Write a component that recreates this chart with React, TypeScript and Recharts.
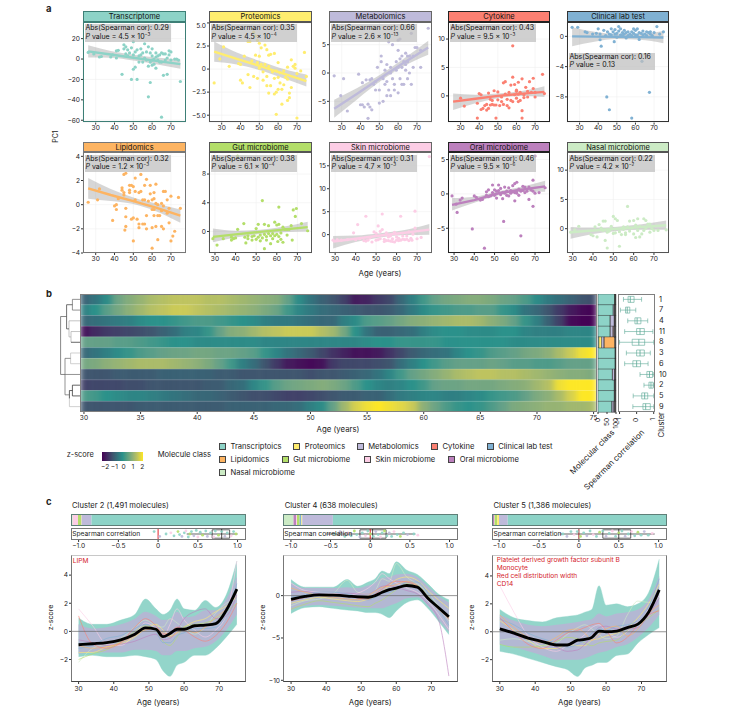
import React from 'react';
import {
  Area,
  Bar,
  BarChart,
  CartesianGrid,
  ComposedChart,
  Line,
  ReferenceArea,
  ReferenceLine,
  Scatter,
  ScatterChart,
  XAxis,
  YAxis,
} from 'recharts';

const FONT = 'Inter, "Liberation Sans", sans-serif';
const INK = '#222';

const TEAL = '#8dd3c7';
const YELLOW = '#ffed6f';
const LAVENDER = '#bebada';
const SALMON = '#fb8072';
const BLUE = '#80b1d3';
const ORANGE = '#fdb462';
const GREEN = '#b3de69';
const PINK = '#fccde5';
const PURPLE = '#bc80bd';
const MINT = '#ccebc5';

// panel a: [age, PC1]
const transcriptomePoints = [[26,6.5],[29,5],[32,2],[33,2.5],[38,2],[39,4],[41,1],[41,8],[42,8.5],[44,-15],[45,14],[45,10],[46,12],[46,5],[47,3],[47,9],[48,6],[49,11],[49,-20],[50,4],[50,17],[50,-10],[51,7],[51,-8],[52,-20],[52,9],[53,3],[53,-3],[54,10],[54,4],[55,6],[55,-3],[56,15],[56,31],[56,1],[57,7],[57,-1],[58,12],[58,-37],[58,-7],[59,6],[59,-23],[59,-3],[60,-1],[60,3],[60,10],[60,-6],[61,0],[61,-5],[62,6],[62,2],[62,-9],[63,-1],[63,3],[64,4],[64,-3],[65,-57],[65,6],[65,-3],[66,5],[66,-16],[67,-1],[67,5],[68,-15],[68,1],[69,4],[69,8],[70,7],[70,-1],[72,0],[73,0],[74,-1],[75,-22]];
const proteomicsPoints = [[26,-1.5],[29,4.6],[29,1.1],[31,2.4],[34,.3],[39,.6],[40,.5],[40,-1.2],[41,-1.5],[42,1.4],[44,-.6],[44,3],[45,-2],[45,3],[46,.9],[47,4],[47,-.8],[48,3.6],[48,1.5],[49,.7],[49,3.1],[49,-1],[50,2.8],[50,.1],[50,1.4],[51,2.3],[51,.5],[52,-.3],[52,-1.2],[53,2.6],[53,.5],[54,2.1],[54,-1.8],[54,-.8],[55,1.5],[55,-2.6],[55,.3],[56,1.6],[56,-1.8],[57,-.3],[58,-1],[58,1.7],[58,-2.7],[59,-.2],[59,-4.9],[59,-2.5],[60,.7],[60,-.9],[60,-2.2],[61,-.4],[61,-1.5],[62,-3.8],[62,-2.2],[63,-.2],[63,-1.7],[64,-.9],[65,-3.4],[65,-1.1],[65,.2],[66,-3.1],[66,-2.6],[67,1],[67,-2],[68,.3],[69,.5],[69,.1],[70,-.5],[70,-5.3],[72,-.2],[74,1.8],[75,-.8]];
const metabolomicsPoints = [[26,-.5],[29.5,-4],[31,-1],[33,-6.7],[39,-.2],[40,-5.6],[41,-5.6],[42,-6],[41,-1.7],[43,-1.2],[44,-8],[44,-5.5],[45,-6],[45,-1.2],[46,-6.5],[46,-1],[47,-2],[48,-3],[48,-1.5],[49,1],[50,-3],[50,-5.3],[51,3],[51,2],[52,-5],[52,-1],[53,.5],[53,-2],[54,-4],[54,-1.5],[54,1.5],[55,-3],[55,5.5],[56,1],[56,0],[56,-4],[57,5],[57,-1],[58,-2],[58,-3],[59,2],[59,.5],[60,5.8],[60,4],[60,1],[60,-3.5],[61,6],[61,2.5],[61,-1],[62,3],[62,-2],[62,1],[63,2],[63,-2],[64,.5],[64,1.5],[64,3.5],[65,3],[65,2],[65,-1],[66,0],[66,3],[67,-2],[67,7],[68,1],[68,3],[69,4.5],[70,4.5],[72,4],[72,1],[76,7.9]];
const cytokinePoints = [[26,12],[30,-.4],[32,-1.8],[39,-3.9],[39,-1.3],[40,.4],[41,.2],[41,-2.4],[42,-2.2],[43,-1.7],[44,-2.5],[44,-1.5],[45,.5],[45,-2.2],[46,-1.6],[46,-.6],[47,-1.5],[47,-.8],[48,-1.6],[48,.9],[49,-3.9],[49,-1.6],[50,.7],[50,-.7],[51,-1.7],[52,-1],[52,-.2],[53,-1.5],[53,2.3],[54,2.5],[54,.3],[55,-1.7],[55,-.6],[56,.6],[56,-2.1],[57,1.9],[57,-.8],[58,8.8],[58,3.3],[58,-1],[59,2],[59,.2],[60,.8],[60,-.4],[60,1],[61,2.4],[61,-1],[61,.3],[62,-.8],[62,.6],[63,-3.9],[63,-2.6],[63,3],[64,.2],[64,-.3],[65,1.5],[66,-.2],[66,.8],[67,2.5],[68,.6],[69,3.1],[69,1.3],[70,.6],[70,-.2],[74,3.8],[75,.4]];
const clinicalPoints = [[26,1.2],[29,1.2],[33,.6],[34,.5],[37,.3],[39,.4],[40,1],[41,.3],[41,-.45],[41.6,-1.3],[43,.8],[44,.1],[44.6,-8],[45,.6],[46,-9.7],[46,.3],[47,1],[47,.2],[48,.6],[48.6,-.7],[49,.3],[49,.9],[50,.4],[50,-.1],[51,.7],[51,1.3],[52,.2],[52,1],[53,.5],[53,.1],[54,.8],[54,.3],[55,.5],[55,-.2],[56,.6],[56,.1],[57,.3],[58,-10.8],[58,.6],[58,.1],[59,1],[59,.4],[60,.2],[60,.8],[61,1],[61,.2],[62,.5],[62,-.4],[63,.4],[63.5,-3.3],[64,.2],[64,.7],[65,.3],[66,.6],[66,.1],[67,.5],[67.5,-7.4],[68,.3],[68,.6],[69,.1],[70,.5],[71.5,1.3],[73,.3],[75,.6]];
const lipidomicsPoints = [[26,.2],[31,.4],[32,1.3],[39,-1.3],[40,-.1],[41,-.4],[41,0],[42,.5],[44,1.4],[44,1.2],[45,1],[45,.8],[45,2.5],[45.5,-2.1],[46,2.6],[46,-1.8],[46,-1],[46,-.3],[48,1.6],[48,1.2],[48,1],[49,-1.2],[49,1.6],[50,-1.1],[50,1.5],[50,-3],[51,1.1],[51,.4],[51,2.2],[52,-1.2],[53,-1.6],[53,-1.9],[53,1],[54,2.5],[54,1.1],[55,.4],[55,-1.6],[56,-1.6],[56,.4],[56,1.6],[57,2.1],[57,-2],[57,-.9],[58,.3],[59,1.6],[59,.9],[60,-.4],[60,-1.9],[60,-3.6],[60,.4],[61,1],[61,.5],[61,-.9],[61,-.4],[62,-1.8],[62,1.7],[62,.1],[63,-2.9],[63,-.9],[63,0],[64,-.9],[65,-1.8],[65,-.5],[65,.1],[66,-2],[66,1.1],[66,-.1],[67,1.1],[68,-.7],[68,.4],[69,-1.5],[69,-.3],[70,-3],[70,.7],[71,-2.6],[72,-2.2],[74,.6],[75,-.3]];
const gutPoints = [[29,-1],[31,-1.9],[34,-1],[38,-.8],[38,-1.2],[39,-1],[40,-.9],[41,10.5],[41,.3],[44,1.1],[44.5,-.8],[45,-1.6],[46,-.6],[46,-1],[48,-.7],[48,-1.2],[49,-.6],[50,-1.1],[50,.4],[51,1],[51,-.8],[52,-1.3],[52,-.5],[53,4.3],[53,-.9],[54,-2.4],[54,1],[54,-.4],[55,-1.2],[55,-.7],[56,.8],[56,-.3],[57,-1.7],[57,-.6],[58,-1],[58,-.3],[59,1.3],[59,-.6],[60,-.4],[60,.9],[60.5,-1.4],[61,3.4],[61,1],[61,-.7],[62,-.2],[62,-1.1],[63,.6],[63,-1.5],[64,.3],[65,.3],[65,-.5],[66,.3],[67,.8],[67.5,-1.2],[68,3],[69,2.1],[69.5,3.2],[72,1.1],[75,.1]];
const skinPoints = [[29,-1.2],[31,-1.1],[33,-1.2],[36,-1.1],[39,.4],[40,-1.1],[41,2.2],[42,-.9],[44,-1.3],[45,4],[45,-1.4],[46,-1.2],[47,-.7],[48,-1.6],[49,.6],[50,-1.2],[50,.3],[51,1.9],[51,-1.1],[52,.7],[52,-.9],[53,4.5],[53,1.1],[54,-1],[54,-1.5],[55,.4],[55,-1.3],[56,-.5],[56,-1.3],[57,-1.4],[57,-.3],[58,-.9],[58,-1.5],[59,.5],[59,-1.6],[60,-1.2],[60,-.5],[61,-.8],[61,-1.3],[62,4],[62,-1.2],[63,-1],[63,-.3],[64,-1.1],[65,-1],[65,-.3],[66,.6],[66,-1.3],[67,-.8],[67.5,-1.2],[68,.1],[69,1.4],[69,5.1],[70,-.9],[72,-.6],[76,17]];
const oralPoints = [[29,-.3],[31,-1.5],[31.5,-2.7],[33,-.9],[34,-.6],[39,-5.1],[40,-.3],[41,-.5],[43,-.9],[44,-.8],[45,-7.9],[46,.3],[46,-.2],[47,.6],[47,-.4],[48,-.3],[49,.2],[49,1.3],[50,-.2],[50,.6],[51,.4],[51,-.6],[52,1.3],[52,.5],[53,-.1],[53,.8],[54,.2],[54,-.7],[54.5,-4],[55,1],[55,.1],[56,.4],[56,-.2],[57,.9],[57,-.3],[58,.5],[58,.1],[59,1.2],[59,.3],[60,-1],[60,1.5],[60,.2],[61,1.7],[61,.5],[61,.1],[62,.7],[62,-.2],[63,-6.1],[63,.4],[64,1.1],[64,.5],[65,.2],[65,1],[66,.4],[67,-.8],[67,1],[68,.6],[69,.4],[69,-1.8],[69,2],[70,5.5],[70,.1],[72,.2],[75,.9]];
const nasalPoints = [[29,-.6],[31,-.2],[33,.4],[39,-1],[40,-1.2],[41,.3],[42,-1.4],[43,.7],[44,.1],[45,1.3],[45,-.3],[46,-2],[46,1.3],[47,-3.3],[47,-.6],[48,-.4],[49,.4],[50,2.1],[50,-.8],[51,1.7],[51,-.7],[52,1.4],[53,-.5],[53,-3],[54,-1],[55,-.1],[55,.3],[56,-.7],[56,-1],[57,3.8],[57,.3],[58,1.3],[58,-.4],[59,.1],[60,1.4],[60,-.9],[61,.6],[61,-1.5],[62,1.7],[62,-.3],[63,-1.4],[63,.4],[64,-.9],[65,1.7],[65,-.3],[66,1.4],[66,.1],[67,.8],[68,.8],[68,-.6],[69,0],[70,-.3],[72,-.3],[76,-.2]];

// panel a fits: [age, fit, low, high]
const transcriptomeFit = [[26,7.5,1.5,13.5],[38,4.5,1.2,7.8],[50,1.3,-1.5,4.1],[62,-1.8,-5,1.4],[75,-5,-9.5,-.5]];
const proteomicsFit = [[26,1.9,.8,3],[38,1.1,.5,1.8],[50,.35,-.1,.9],[62,-.45,-.95,.05],[75,-1.3,-1.9,-.6]];
const metabolomicsFit = [[26,-6.3,-7.9,-4.7],[38,-3.7,-4.7,-2.7],[50,-1,-1.6,-.4],[62,1.6,1,2.3],[76,4.5,3.2,5.7]];
const cytokineFit = [[26,-1,-2.5,.4],[38,-.5,-1.3,.2],[50,0,-.4,.4],[62,.35,0,.8],[75,.7,-.2,1.7]];
const clinicalFit = [[26,0,-1.3,1.2],[38,-.03,-.7,.6],[50,-.05,-.35,.3],[62,-.1,-.45,.3],[75,-.15,-.9,.7]];
const lipidomicsFit = [[26,1.35,.5,2.2],[38,.8,.3,1.3],[50,.3,.05,.6],[62,-.25,-.55,.1],[75,-.9,-1.5,-.4]];
const gutFit = [[29,-.75,-1.5,.4],[40,-.4,-.85,.1],[52,-.05,-.35,.25],[63,.25,-.1,.65],[75,.6,0,1.35]];
const skinFit = [[29,-1.5,-3,-.3],[40,-.9,-1.6,-.2],[52,-.2,-.6,.3],[64,.4,-.1,1],[76,1.1,0,2.3]];
const oralFit = [[29,-1.6,-2.4,-.6],[40,-.9,-1.3,-.4],[52,.1,-.2,.4],[63,.6,.3,1],[75,1.1,.3,1.9]];
const nasalFit = [[29,-.6,-1.7,.3],[40,-.3,-.9,.2],[52,0,-.4,.35],[64,.3,-.2,.75],[76,.6,-.2,1.4]];

const a1Panels = [
  { title: 'Transcriptome', color: TEAL, edge: '#3d7f76', points: transcriptomePoints, fit: transcriptomeFit, xDomain: [23.25, 78], yDomain: [-62.3, 36.3], yTicks: [-60, -40, -20, 0, 20], cor: '0.29', p: '4.5', exp: '−3', left: 83, width: 103 },
  { title: 'Proteomics', color: YELLOW, edge: '#555', points: proteomicsPoints, fit: proteomicsFit, xDomain: [23.25, 78], yDomain: [-5.8, 5.1], yTicks: [-5, -2.5, 0, 2.5, 5], yFixed: true, cor: '0.35', p: '4.5', exp: '−4', left: 209, width: 103 },
  { title: 'Metabolomics', color: LAVENDER, edge: '#666', points: metabolomicsPoints, fit: metabolomicsFit, xDomain: [23.25, 78], yDomain: [-8.75, 9], yTicks: [-5, 0, 5], cor: '0.66', p: '2.6', exp: '−13', left: 329, width: 103 },
  { title: 'Cytokine', color: SALMON, edge: '#222', points: cytokinePoints, fit: cytokineFit, xDomain: [23.25, 78], yDomain: [-4.7, 13], yTicks: [0, 5, 10], cor: '0.43', p: '9.5', exp: '−3', left: 448, width: 102 },
  { title: 'Clinical lab test', color: BLUE, edge: '#333', points: clinicalPoints, fit: clinicalFit, xDomain: [23.25, 78], yDomain: [-11.4, 1.9], yTicks: [-8, -4, 0], cor: '0.16', pText: '0.13', boxTop: 52.7, left: 567, width: 102 },
];
const a2Panels = [
  { title: 'Lipidomics', color: ORANGE, edge: '#777', points: lipidomicsPoints, fit: lipidomicsFit, xDomain: [23.25, 78], yDomain: [-4, 4.36], yTicks: [-4, -2, 0, 2, 4], cor: '0.32', p: '1.2', exp: '−3', left: 83, width: 103 },
  { title: 'Gut microbiome', color: GREEN, edge: '#555', points: gutPoints, fit: gutFit, xDomain: [27.1, 77.1], yDomain: [-3, 11.07], yTicks: [0, 4, 8], cor: '0.38', p: '6.1', exp: '−4', left: 209, width: 103 },
  { title: 'Skin microbiome', color: PINK, edge: '#666', points: skinPoints, fit: skinFit, xDomain: [27, 77.3], yDomain: [-4, 18], yTicks: [0, 5, 10, 15], cor: '0.31', p: '4.7', exp: '−3', left: 329, width: 103 },
  { title: 'Oral microbiome', color: PURPLE, edge: '#222', points: oralPoints, fit: oralFit, xDomain: [27, 77.4], yDomain: [-8.6, 6.1], yTicks: [-5, 0, 5], cor: '0.46', p: '9.5', exp: '−6', left: 448, width: 102 },
  { title: 'Nasal microbiome', color: MINT, edge: '#555', points: nasalPoints, fit: nasalFit, xDomain: [27.2, 77.4], yDomain: [-4.15, 13.1], yTicks: [0, 5, 10], cor: '0.22', p: '4.2', exp: '−2', left: 567, width: 102 },
];

// panel b
const heatClusters = ['1', '7', '4', '11', '8', '3', '6', '10', '2', '5', '9'];
const heatAges = [30,31,32,33,34,35,36,37,38,39,40,41,42,43,44,45,46,47,48,49,50,51,52,53,54,55,56,57,58,59,60,61,62,63,64,65,66,67,68,69,70,71,72,73,74,75];
const heatRows = [
  [-.8,-.5,-.1,.6,.9,1.1,1.3,1.4,1.5,1.5,
   1.5,1.4,1.4,1.3,1.2,1.1,1,.9,.5,-.1,
   -.5,-.8,-1,-1.3,-1.8,-1.7,-1.4,-1.2,-.7,-.3,
   .2,.5,.7,.8,.9,.9,.8,.6,.5,.3,
   -.1,-.4,-.6,-.8,-1,-1.1],
  [-.3,0,.4,.7,1,1.2,1.4,1.5,1.6,1.6,
   1.5,1.4,1.3,1.2,1.1,1,.8,.6,.2,-.2,
   -.4,-.6,-.7,-.8,-.9,-1,-1,-.9,-.7,-.4,
   -.1,.1,.2,.3,.3,.4,.4,.1,-.1,-.5,
   -.7,-1,-1.4,-1.8,-2,-2.1],
  [-.7,-.6,-.5,-.4,-.3,-.1,0,0,.1,.2,
   .3,.3,.2,.1,0,-.1,-.3,-.4,-.4,-.5,
   -.6,-.7,-.7,-.3,-.1,.3,.4,.5,.7,.9,
   1,1.1,1.2,1.3,1.3,1.2,1,.8,.5,.1,
   -.3,-.8,-1.3,-2,-2.2,-2.2],
  [-1.9,-1.6,-1.4,-1.3,-1.2,-1.1,-1,-.8,-.6,-.3,
   -.2,.1,.5,.9,1,1.2,1.4,1.5,1.6,1.6,
   1.6,1.4,1.2,.7,0,-.5,-.8,-.8,-.7,-.6,
   -.3,-.1,0,0,-.1,-.1,-.1,0,0,-.2,
   -.3,-.3,-.3,-.2,-.2,-.2],
  [.5,.5,.5,.4,.4,.3,.2,.1,0,0,
   -.1,-.1,-.1,-.1,-.1,-.1,-.2,-.2,-.2,-.2,
   -.2,-.2,-.2,-.2,-.2,-.1,0,0,.1,.1,
   .1,.1,0,0,0,0,0,0,-.1,-.1,
   -.1,-.1,-.1,-.1,-.1,-.1],
  [-.7,-.5,-.3,-.1,.1,.3,.4,.5,.6,.6,
   .7,.7,.6,.6,.5,.4,.1,-.2,-.5,-.7,
   -.9,-1.2,-1.5,-1.7,-1.9,-1.9,-1.8,-1.5,-1.2,-.9,
   -.7,-.6,-.5,-.2,0,.1,.3,.4,.5,.7,
   .8,1,1.3,1.6,1.9,2],
  [.7,.8,1,1.1,1.2,1.3,1.3,1.3,1.2,1.1,
   1,.8,.5,.2,-.3,-.6,-1,-1.4,-1.8,-1.9,
   -2,-1.9,-1.4,-1.2,-1.2,-1.2,-1.1,-1,-.6,-.3,
   0,.2,.4,.5,.5,.5,.6,.5,.4,.4,
   .3,.3,.4,.5,.5,.5],
  [-1,-1,-1,-.9,-.9,-.9,-.9,-.8,-.8,-.8,
   -.8,-.8,-.9,-.9,-1,-1,-1,-1,-1,-1,
   -1.1,-1,-1,-.9,-.8,-.7,-.5,-.2,.2,.5,
   .7,.9,1.1,1.3,1.4,1.5,1.5,1.4,1.4,1.3,
   1.2,1.1,1,.9,.9,.8],
  [-1.3,-1.2,-1.2,-1.2,-1.1,-1.1,-1,-1,-1,-1,
   -1,-.9,-.9,-.7,-.6,-.2,.1,.4,.6,.7,
   .8,.9,.8,.6,.3,0,-.2,-.3,-.2,0,
   .2,.5,.6,.6,.7,.7,.7,.8,.9,1,
   1.2,1.4,1.9,2.1,2.1,2.1],
  [.3,.2,0,-.1,-.2,-.2,-.3,-.4,-.5,-.6,
   -.7,-.7,-.8,-.9,-1,-1.1,-1.1,-1.2,-1.3,-1.3,
   -1.2,-1.1,-1,-.9,-.9,-.8,-.8,-.6,-.4,-.3,
   -.2,-.2,-.3,-.3,-.2,-.1,.1,.2,.3,.5,
   .8,1,1.3,1.7,2,2.1],
  [-1,-1,-1,-1,-1,-.9,-.9,-.9,-.9,-.9,
   -.9,-.9,-.9,-.8,-.8,-.8,-.8,-.7,-.7,-.6,
   -.3,-.1,.5,1.2,1.7,1.9,2,1.9,1.8,1.6,
   1,.6,.3,.1,0,.1,.3,.5,.8,.9,
   1,1.1,1.1,1.2,1.2,1.3],
];
const heatStops = [[-2.1, [68, 1, 84]], [-1.5, [65, 50, 100]], [-1, [62, 85, 110]], [-.5, [50, 115, 125]], [0, [42, 145, 138]], [.5, [100, 160, 135]], [1, [140, 175, 120]], [1.5, [190, 195, 95]], [1.8, [225, 215, 70]], [2, [253, 231, 37]]];

const classTranscriptomics = [94, 85, 68, 68, 5, 96, 96, 80, 91, 91, 78];
const classProteomics = [.5, .5, .5, .5, 15, .5, .5, .5, .5, .5, .5];
const classMetabolomics = [1, 6, 22, 14, 14, .5, .5, 12, 2, 2, 10];
const classSkin = [.5, 1, 2, 6, 1, 0, 0, 1, 1, 1, 2];
const classLipidomics = [0, 0, .5, .5, 58, 0, 0, 0, 0, 0, 0];
const classOther = [4, 7.5, 7, 11, 7, 3, 3, 6.5, 5.5, 5.5, 9.5];

// min, q1, median, q3, max of the Spearman correlation per cluster
const boxMin = [-.77, -.95, -.52, -.7, -1, -.6, -.7, .2, .43, -.2, -.22];
const boxQ1 = [-.5, -.65, -.1, 0, -.26, 0, -.22, .6, .72, .3, .37];
const boxMedian = [-.37, -.55, .03, .2, .13, .2, 0, .75, .84, .47, .53];
const boxQ3 = [-.15, -.4, .25, .45, .47, .45, .23, .93, .97, .65, .8];
const boxMax = [.29, -.05, .65, .95, 1, .8, .67, 1, 1, 1, 1];

// dendrogram links: [height, row] polylines from leaf side to merge and back
const dendroLinks = [
  { color: '#666', path: [[0,0],[.38,0],[.38,1],[0,1]] },
  { color: '#aaa', path: [[0,3],[.45,3],[.45,4]] },
  { color: '#222', path: [[.45,4],[0,4]] },
  { color: '#aaa', path: [[0,2],[.55,2],[.55,3.5],[.45,3.5]] },
  { color: '#333', path: [[.38,.5],[.67,.5],[.67,2.75],[.55,2.75]] },
  { color: '#bbb', path: [[0,5],[.47,5],[.47,6],[0,6]] },
  { color: '#222', path: [[0,8],[.38,8],[.38,9],[0,9]] },
  { color: '#222', path: [[.38,8.5],[.53,8.5],[.53,9.25]] },
  { color: '#bbb', path: [[.53,9.25],[.53,10],[0,10]] },
  { color: '#666', path: [[0,7],[.75,7],[.75,8.9],[.53,8.9]] },
  { color: '#666', path: [[.47,5.5],[.75,5.5],[.75,7]] },
  { color: '#555', path: [[.67,1.6],[.97,1.6],[.97,7],[.75,7]] },
];

const legendItems = [
  { name: 'Transcriptoics', color: TEAL, x: 219, row: 0 },
  { name: 'Proteomics', color: YELLOW, x: 293.3, row: 0 },
  { name: 'Metabolomics', color: LAVENDER, x: 356.7, row: 0 },
  { name: 'Cytokine', color: SALMON, x: 431, row: 0 },
  { name: 'Clinical lab test', color: BLUE, x: 486.7, row: 0 },
  { name: 'Lipidomics', color: ORANGE, x: 219, row: 1 },
  { name: 'Gut microbiome', color: GREEN, x: 281.7, row: 1 },
  { name: 'Skin microbiome', color: PINK, x: 364, row: 1 },
  { name: 'Oral microbiome', color: PURPLE, x: 448.3, row: 1 },
  { name: 'Nasal microbiome', color: MINT, x: 219, row: 2 },
];

// panel c
const trajAges = [30, 34, 38, 42, 46, 49, 52, 54, 56, 58, 60, 63, 66, 69, 72, 75];
const traceColors = [MINT, PINK, YELLOW, GREEN, PURPLE, BLUE, ORANGE, SALMON];
const classOrder = [MINT, PURPLE, PINK, GREEN, BLUE, YELLOW, LAVENDER, TEAL];

const c2Mean = [-.95, -.88, -.8, -.6, -.2, .25, .15, -.38, -.15, .15, .15, .4, .45, .55, 1.5, 3];
const c2OuterHigh = [.95, .5, .5, .8, 1.2, 2.3, 1.6, 1.2, 1.5, 2.3, 1.6, 1.5, 2.2, 1.7, 2.6, 5];
const c2OuterLow = [-1.8, -1.7, -1.8, -1.8, -1.7, -1.8, -2, -2.8, -3.2, -2.4, -2.2, -1.7, -1.7, -1.2, -.4, .5];
const c2InnerHigh = [.5, .2, .3, .5, .9, 1.4, 1.1, .8, .9, 1.4, 1, 1.1, 1.5, 1.5, 2.3, 3.9];
const c2InnerLow = [-1.6, -1.5, -1.5, -1.5, -1.3, -1.3, -1.4, -1.7, -1.7, -1.4, -1.4, -1.2, -1.1, -.7, .1, 1.2];
const c2Traces = [
  [-2.2, -1.2, -.9, -.5, .3, .8, .4, .3, .9, .6, .2, -.2, .3, 1.3, 2, 2.3],
  [1.6, .4, -.9, -1, -.2, .6, .2, -.4, .5, 1.6, .8, .1, -.4, .1, 1.2, 5],
  [-1.5, -1.5, -1.1, -.9, -.4, .2, .5, .1, -.3, -.1, .3, .7, .9, 1.4, 1.8, 2.5],
  [-2, -1.6, -1.3, -.7, 0, .4, .1, -.7, -1, -.4, .3, .5, .6, .9, 1.4, 2],
  [-.6, -.8, -1, -.9, -.7, -.4, -.2, -.6, -.5, .1, .9, 1.4, 1.6, .9, 1.1, 2.6],
  [-1.2, -1, -.5, -.3, .2, .5, 0, -.8, -.8, -.3, -.1, .2, .2, .3, 1.2, 3.4],
  [-1, -1.2, -1.1, -.8, -.3, .1, .2, -.1, -.4, -.1, .2, -.1, .3, 1, 1.6, 2.8],
  [1.1, -.9, -1.2, -.8, .3, .9, .4, -.2, -.1, .3, .1, -.4, -.7, -.3, .6, 2],
];
const c2Classes = [1, 0, 3, 1.7, 0, .3, 5.7, 88.3];
const c2Box = [.36, .68, .8, .9, 1];
const c2Spearman = [[-.05,.7],[.02,.3],[.1,.5],[.16,.6],[.2,.35],[.25,.7],[.27,.45],[.3,.3],[.33,.6],[.35,.75],[.38,.25],[.4,.5],[.42,.7],[.45,.35],[.48,.8],[.5,.25],[.53,.65],[.56,.4],[.6,.75],[.62,.3],[.66,.6],[.7,.25],[.72,.75],[.76,.4],[.8,.7],[.84,.3],[.87,.6],[.92,.35],[.95,.7],[.98,.5]];

const c4Mean = [-.45, -.1, .1, .05, -.05, -.15, -.2, 0, .4, .7, .9, 1.2, 1, -.3, -1.4, -2.5];
const c4OuterHigh = [1.9, 1, 1, 1, 1.9, 1.1, 1.6, 2, 2.9, 2.6, 4, 3, 2.5, 1.4, .2, -.5];
const c4OuterLow = [-2.1, -1.4, -1.3, -1.5, -1.7, -1.8, -2, -2, -2.2, -2.6, -1.8, -.8, -.5, -1.5, -3, -4.6];
const c4InnerHigh = [1.5, .9, .9, .9, 1, .9, 1.2, 1.5, 2.1, 2.2, 2.5, 2.6, 2.2, 1.1, 0, -.8];
const c4InnerLow = [-1.7, -1.2, -1.1, -1.2, -1.3, -1.4, -1.5, -1.5, -1.5, -1.2, -.9, -.3, -.2, -1.2, -2.8, -4.3];
const c4Traces = [
  [-1.2, -.6, -.4, .2, 1.8, .4, .2, .6, 2, 1.7, 3.8, 2.2, 1.4, .3, -1.2, -3],
  [1.5, .6, .4, .3, 0, .3, .9, 1.6, 2.6, 2, 1.5, .9, .4, -.6, -2.2, -4],
  [-.9, -.5, -.2, -.4, -.6, -.7, -.4, -.1, .5, 1.2, 1.9, 2.2, 1.8, .6, -.5, -1.5],
  [-1.6, -1, -.6, -.8, -1, -1.2, -1.3, -.9, -.5, .1, .7, 1.4, 1.2, 0, -1.4, -2.6],
  [.4, .5, .2, .1, .3, .2, .2, .6, 1.1, 1.2, 1, .6, .2, -1, -2.8, -9.5],
  [-.2, .1, .4, .4, .2, -.1, -.5, -.2, .3, .4, .8, 1.6, 1.6, .3, -1.6, -3.5],
  [.9, .4, 0, -.2, -.4, -.5, 0, .5, 1, 1.1, 1.3, 1.7, 1.2, -.2, -1.6, -2.6],
  [-.6, -.2, .1, .1, 0, -.3, -.4, .2, .8, 1.4, 1.7, 1.6, 1.1, -.2, -1.4, -2.8],
];
const c4Classes = [6, 1.5, .5, 1.5, 1, .5, 17.5, 71.5];
const c4Box = [-.55, -.13, .03, .2, .57];
const c4Spearman = [[-.45,.5],[-.38,.7],[-.32,.3],[-.28,.6],[-.24,.35],[-.2,.75],[-.17,.45],[-.13,.25],[-.1,.6],[-.06,.35],[-.03,.75],[0,.5],[.04,.3],[.07,.7],[.1,.45],[.13,.25],[.15,.6],[.18,.75],[.21,.35],[.24,.6],[.27,.3],[.3,.7],[.34,.45],[.38,.3],[.42,.6],[.47,.45],[.55,.5],[.6,.4]];

const c5Mean = [.2, -.1, -.45, -.7, -.95, -.95, -.6, -.55, -.4, .05, 0, .05, .3, .55, 1.4, 3];
const c5OuterHigh = [1.6, 1, .8, .7, 1, 1.1, 1.2, 1.4, 1.6, 3.3, 1.9, 2, 1.8, 2, 2.8, 5.2];
const c5OuterLow = [-1.4, -1.6, -1.9, -2.2, -2.5, -2.7, -3.2, -2.6, -2.4, -2.2, -2.2, -1.7, -1.6, -.8, -.2, .3];
const c5InnerHigh = [1.2, .8, .5, .4, .5, .6, .7, .8, .9, 1.3, 1.1, 1.3, 1.4, 1.6, 2.3, 4];
const c5InnerLow = [-.9, -1.1, -1.4, -1.7, -2, -2, -2, -1.9, -1.7, -1.5, -1.4, -1.1, -.9, -.4, .3, 1.2];
const c5Traces = [
  [-.6, -.5, -.7, -1, -.8, -.2, .3, .5, .2, -.2, -.5, -.3, 1.2, 2.2, 2.1, 2.4],
  [3.3, 1.4, -.3, -1.1, -1.4, -1, -.6, -.2, .3, .5, .1, -.4, 0, .8, 1.6, 2.6],
  [.8, .1, -.6, -1.2, -1.2, -.9, -1, -1, -.6, -.5, -.3, -.1, .3, 1, 2, 3.4],
  [-.9, -1.1, -1.1, -1, -.7, -.4, -.5, -.8, -1, -.8, -.7, -.6, .1, .5, 1, 1.6],
  [.3, -.2, -.5, -.6, -1.1, -1.4, -1.3, -.9, -.3, .3, .4, .2, .2, .3, 1.2, 2.4],
  [.9, .5, -.1, -.5, -.8, -1.1, -.9, -.6, -.1, .2, .1, .4, .5, .8, 1.8, 3.8],
  [1.2, .3, -.4, -.8, -.4, .1, .2, -.1, -.6, -.2, .2, .4, -.3, .2, 1.3, 1.9],
  [1, 0, -.9, -1.2, -.6, -.1, .1, .3, .5, .6, .1, -.8, -.4, .5, 1.2, 1.5],
];
const c5Classes = [.3, 1, .2, 1.5, 0, 1, 5, 91];
const c5Box = [-.24, .3, .5, .65, .95];
const c5Spearman = [[-.2,.5],[-.15,.3],[-.1,.7],[-.06,.45],[-.02,.7],[.02,.3],[.06,.6],[.1,.35],[.14,.75],[.18,.45],[.22,.3],[.26,.65],[.3,.75],[.34,.3],[.38,.55],[.42,.75],[.46,.3],[.5,.6],[.54,.75],[.58,.3],[.62,.5],[.66,.7],[.7,.35],[.74,.65],[.78,.4],[.82,.7],[.87,.4],[.92,.55]];

const strip1Ticks = [-1, -.5, 0, .5, 1];
const ageTicks = [30, 40, 50, 60, 70];

const cPanels = [
  { title: 'Cluster 2 (1,491 molecules)', titleX: 72, left: 70.7, width: 175, xDomain: [27.84, 77.6], yDomain: [-3.6, 5.43], yTicks: [-2, 0, 2, 4], stripDomain: [-1.096, 1.106], mean: c2Mean, outerHigh: c2OuterHigh, outerLow: c2OuterLow, innerHigh: c2InnerHigh, innerLow: c2InnerLow, traces: c2Traces, classes: c2Classes, box: c2Box, spearman: c2Spearman, zeroColor: '#e0242a', notes: ['LIPM'], notesX: 72.7, notesY: 558 },
  { title: 'Cluster 4 (638 molecules)', titleX: 284.7, left: 282.7, width: 175, xDomain: [27.7, 77.6], yDomain: [-10.2, 4.8], yTicks: [-10, -5, 0], stripDomain: [-1.1, 1.107], mean: c4Mean, outerHigh: c4OuterHigh, outerLow: c4OuterLow, innerHigh: c4InnerHigh, innerLow: c4InnerLow, traces: c4Traces, classes: c4Classes, box: c4Box, spearman: c4Spearman, zeroColor: '#e0242a', notes: [], notesX: 0, notesY: 0 },
  { title: 'Cluster 5 (1,386 molecules)', titleX: 493.5, left: 492, width: 175, xDomain: [27.8, 77.2], yDomain: [-3.6, 5.5], yTicks: [-2, 0, 2, 4], stripDomain: [-1.09, 1.105], mean: c5Mean, outerHigh: c5OuterHigh, outerLow: c5OuterLow, innerHigh: c5InnerHigh, innerLow: c5InnerLow, traces: c5Traces, classes: c5Classes, box: c5Box, spearman: c5Spearman, zeroColor: '#a02a2a', notes: ['Platelet derived growth factor subunit B', 'Monocyte', 'Red cell distribution width', 'CD14'], notesX: 496.7, notesY: 557 },
];

const minus = (v: number | string) => String(v).replace('-', '−');

const heatColor = (z: number) => {
  for (let i = 1; i < heatStops.length; i++) {
    const [z1, c1] = heatStops[i - 1] as [number, number[]];
    const [z2, c2] = heatStops[i] as [number, number[]];
    if (z <= z2) {
      const t = Math.max(0, (z - z1) / (z2 - z1));
      return `rgb(${c1.map((c, k) => Math.round(c + (c2[k] - c) * t)).join(',')})`;
    }
  }
  return 'rgb(253,231,37)';
};

const tickStyle = { fontSize: 6.6, fill: INK };

const Txt = ({ x, y, size = 7, color = INK, bold, children, style }: any) => (
  <div style={{ position: 'absolute', left: x, top: y, fontSize: size, lineHeight: 1, color, fontWeight: bold ? 700 : 400, whiteSpace: 'nowrap', ...style }}>
    {children}
  </div>
);

function ScatterPanel({ panel, top, height }: any) {
  const axisW = 24;
  const axisH = 13;
  const points = panel.points.map(([age, pc1]: number[]) => ({ age, pc1 }));
  const fitRows = panel.fit.map(([age, fit, low, high]: number[]) => ({ age, fit, band: [low, high] }));
  const boxTop = panel.boxTop ?? top + 2.4;

  return (
    <>
      <div style={{ position: 'absolute', left: panel.left, top: top - 10.5, width: panel.width, height: 10.5, boxSizing: 'border-box', background: panel.color, border: `1px solid ${panel.edge}`, fontSize: 7.5, lineHeight: '9px', textAlign: 'center', color: '#111' }}>
        {panel.title}
      </div>
      <div style={{ position: 'absolute', left: panel.left - axisW, top }}>
        <ComposedChart width={panel.width + axisW} height={height + axisH} data={fitRows} margin={{ top: 0, right: 0, bottom: 0, left: 0 }}>
          <CartesianGrid stroke="#f0f0f0" strokeWidth={0.6} />
          <XAxis dataKey="age" type="number" domain={panel.xDomain} ticks={[30, 40, 50, 60, 70]} allowDataOverflow height={axisH} tick={tickStyle} tickSize={2} tickMargin={1} axisLine={false} stroke="#333" />
          <YAxis dataKey="pc1" type="number" domain={panel.yDomain} ticks={panel.yTicks} allowDataOverflow width={axisW} tick={tickStyle} tickSize={2} tickMargin={1} axisLine={false} stroke="#333"
            tickFormatter={(v: number) => (panel.yFixed && v !== 0 ? minus(v.toFixed(1)) : minus(v))} />
          <Scatter data={points} isAnimationActive={false} shape={(p: any) => <circle cx={p.cx} cy={p.cy} r={1.6} fill={panel.color} />} />
          <Area dataKey="band" type="monotone" stroke="none" fill="#8c8c8c" fillOpacity={0.36} isAnimationActive={false} dot={false} activeDot={false} />
          <Line dataKey="fit" type="linear" stroke={panel.color} strokeWidth={2.4} dot={false} activeDot={false} isAnimationActive={false} />
        </ComposedChart>
      </div>
      <div style={{ position: 'absolute', left: panel.left, top, width: panel.width, height, boxSizing: 'border-box', border: `1px solid ${panel.edge}`, pointerEvents: 'none' }} />
      <div style={{ position: 'absolute', left: panel.left + 2, top: boxTop, width: 85, height: 17.8, background: 'rgba(190,190,190,0.72)', fontSize: 7, lineHeight: '8.6px', color: '#111', paddingLeft: 0.5, whiteSpace: 'nowrap' }}>
        <div>Abs(Spearman cor): {panel.cor}</div>
        {panel.pText ? (
          <div><i>P</i> value = {panel.pText}</div>
        ) : (
          <div><i>P</i> value = {panel.p} × 10<sup style={{ fontSize: 4.6, lineHeight: 0 }}>{panel.exp}</sup></div>
        )}
      </div>
    </>
  );
}

const rotatedTick = (p: any) => (
  <text x={p.x} y={p.y} dy={2} transform={`rotate(-90 ${p.x} ${p.y + 2})`} textAnchor="end" dominantBaseline="middle" fontSize={6.4} fill={INK}>
    {minus(p.payload.value)}
  </text>
);

function Heatmap() {
  const w = 517;
  const h = 118;
  const pad = 14;
  const cellW = 11.32;
  const cellH = h / heatRows.length;
  const cells = heatRows.flatMap((row, r) => row.map((z, i) => ({ age: heatAges[i], row: r, z })));
  const ticks = [30, 35, 40, 45, 50, 55, 60, 65, 70, 75];
  return (
    <>
      <svg width={0} height={0} style={{ position: 'absolute' }}>
        <filter id="heatSmooth" x="-5%" y="0" width="110%" height="100%" colorInterpolationFilters="sRGB">
          <feGaussianBlur stdDeviation="3.2 0" />
        </filter>
      </svg>
      <div style={{ position: 'absolute', left: 80, top: 294, width: w, height: h, overflow: 'hidden' }}>
        <div style={{ position: 'absolute', left: -pad, top: 0, filter: 'url(#heatSmooth)' }}>
          <ScatterChart width={w + 2 * pad} height={h} margin={{ top: 0, right: pad, bottom: 0, left: pad }}>
            <XAxis dataKey="age" type="number" domain={[29.65, 75.3]} hide allowDataOverflow />
            <YAxis dataKey="row" type="number" domain={[-0.5, 10.5]} reversed hide allowDataOverflow />
            <Scatter data={cells} isAnimationActive={false} shape={(p: any) => {
              const x0 = p.cx - cellW / 2 - (p.payload.age === 30 ? 12 : 0);
              const x1 = p.cx + cellW / 2 + (p.payload.age === 75 ? 12 : 0);
              const c = heatColor(p.payload.z);
              return <rect x={x0} y={p.cy - cellH / 2} width={x1 - x0} height={cellH} fill={c} stroke={c} strokeWidth={0.3} />;
            }} />
          </ScatterChart>
        </div>
      </div>
      <div style={{ position: 'absolute', left: 80, top: 294 }}>
        <ScatterChart width={w} height={h + 14} margin={{ top: 0, right: 0, bottom: 0, left: 0 }}>
          <XAxis dataKey="age" type="number" domain={[29.65, 75.3]} ticks={ticks} interval={0} height={14} tick={tickStyle} tickSize={2} tickMargin={1} axisLine={false} stroke="#333" allowDataOverflow />
          <YAxis dataKey="row" type="number" domain={[-0.5, 10.5]} reversed hide allowDataOverflow />
          <Scatter data={[]} isAnimationActive={false} />
          {heatClusters.slice(1).map((_, i) => (
            <ReferenceLine key={i} y={i + 0.5} stroke="rgba(255,255,255,0.22)" strokeWidth={0.7} />
          ))}
        </ScatterChart>
      </div>
      <div style={{ position: 'absolute', left: 80, top: 294, width: w, height: h, boxSizing: 'border-box', border: '1px solid #808080', pointerEvents: 'none' }} />
    </>
  );
}

function ClassBars() {
  const rows = heatClusters.map((cluster, i) => ({
    cluster,
    transcriptomics: classTranscriptomics[i],
    proteomics: classProteomics[i],
    metabolomics: classMetabolomics[i],
    skin: classSkin[i],
    lipidomics: classLipidomics[i],
    other: classOther[i],
  }));
  const series: [string, string][] = [['transcriptomics', TEAL], ['proteomics', YELLOW], ['metabolomics', LAVENDER], ['skin', PINK], ['lipidomics', ORANGE], ['other', '#555']];
  return (
    <div style={{ position: 'absolute', left: 590, top: 294 }}>
      <BarChart layout="vertical" width={34} height={118 + 22} data={rows} barCategoryGap={0} margin={{ top: 0, right: 8, bottom: 0, left: 8 }}>
        <XAxis type="number" domain={[0, 100]} ticks={[0, 50, 100]} interval={0} height={22} tick={rotatedTick} tickSize={2} axisLine={false} stroke="#333" />
        <YAxis type="category" dataKey="cluster" hide />
        {series.map(([key, color]) => (
          <Bar key={key} dataKey={key} stackId="c" fill={color} stroke="#222" strokeWidth={0.4} isAnimationActive={false} />
        ))}
      </BarChart>
    </div>
  );
}

function BoxPanel() {
  const rows = heatClusters.map((_, i) => ({ median: boxMedian[i], row: i }));
  const boxColor = '#5aa796';
  return (
    <>
      <div style={{ position: 'absolute', left: 609.7, top: 294 }}>
        <ScatterChart width={53.6} height={118 + 22} margin={{ top: 0, right: 8, bottom: 0, left: 8 }}>
          <XAxis dataKey="median" type="number" domain={[-1.09, 1.11]} ticks={[-1, 0, 1]} interval={0} height={22} tick={rotatedTick} tickSize={2} axisLine={false} stroke="#333" allowDataOverflow />
          <YAxis dataKey="row" type="number" domain={[-0.5, 10.5]} reversed hide allowDataOverflow />
          {heatClusters.map((_, i) => (
            <ReferenceLine key={`w${i}`} segment={[{ x: boxMin[i], y: i }, { x: boxMax[i], y: i }]} stroke={boxColor} strokeWidth={0.6} />
          ))}
          {heatClusters.map((_, i) => (
            <ReferenceLine key={`l${i}`} segment={[{ x: boxMin[i], y: i - 0.22 }, { x: boxMin[i], y: i + 0.22 }]} stroke={boxColor} strokeWidth={0.6} />
          ))}
          {heatClusters.map((_, i) => (
            <ReferenceLine key={`h${i}`} segment={[{ x: boxMax[i], y: i - 0.22 }, { x: boxMax[i], y: i + 0.22 }]} stroke={boxColor} strokeWidth={0.6} />
          ))}
          {heatClusters.map((_, i) => (
            <ReferenceArea key={`b${i}`} x1={boxQ1[i]} x2={boxQ3[i]} y1={i - 0.28} y2={i + 0.28} fill="#fff" fillOpacity={1} stroke={boxColor} strokeWidth={0.6} />
          ))}
          <Scatter data={rows} isAnimationActive={false} shape={(p: any) => <line x1={p.cx} x2={p.cx} y1={p.cy - 3} y2={p.cy + 3} stroke={boxColor} strokeWidth={0.8} />} />
        </ScatterChart>
      </div>
      <div style={{ position: 'absolute', left: 617.7, top: 294, width: 37.6, height: 118, boxSizing: 'border-box', border: '1px solid #808080', pointerEvents: 'none' }} />
    </>
  );
}

function Dendrogram() {
  return (
    <div style={{ position: 'absolute', left: 60, top: 294 }}>
      <ScatterChart width={20} height={118} margin={{ top: 0, right: 0, bottom: 0, left: 0 }}>
        <XAxis dataKey="h" type="number" domain={[0, 1]} reversed hide />
        <YAxis dataKey="r" type="number" domain={[-0.5, 10.5]} reversed hide />
        {dendroLinks.map((link, i) => (
          <Scatter key={i} data={link.path.map(([h, r]) => ({ h, r }))} line={{ stroke: link.color, strokeWidth: 0.7 }} shape={() => null} isAnimationActive={false} />
        ))}
      </ScatterChart>
    </div>
  );
}

function TrajectoryPanel({ panel }: any) {
  const classRow: any = { name: 'share' };
  panel.classes.forEach((v: number, i: number) => { classRow[`s${i}`] = v; });
  const rows = trajAges.map((age, i) => {
    const row: any = {
      age,
      mean: panel.mean[i],
      outer: [panel.outerLow[i], panel.outerHigh[i]],
      inner: [panel.innerLow[i], panel.innerHigh[i]],
    };
    panel.traces.forEach((t: number[], k: number) => { row[`t${k}`] = t[i]; });
    return row;
  });
  const [bMin, q1, med, q3, bMax] = panel.box;
  const dots = panel.spearman.map(([x, y]: number[], i: number) => ({ x, y, i }));
  const axisW = 16;
  const plotH = 127;

  return (
    <>
      <Txt x={panel.titleX} y={502} size={7.6}>{panel.title}</Txt>
      <div style={{ position: 'absolute', left: panel.left, top: 514 }}>
        <BarChart layout="vertical" width={panel.width} height={12} data={[classRow]} barCategoryGap={0} margin={{ top: 0, right: 0, bottom: 0, left: 0 }}>
          <XAxis type="number" domain={[0, 100]} hide />
          <YAxis type="category" dataKey="name" hide />
          {panel.classes.map((_: number, i: number) => (
            <Bar key={i} dataKey={`s${i}`} stackId="c" fill={classOrder[i]} isAnimationActive={false} />
          ))}
        </BarChart>
      </div>
      <div style={{ position: 'absolute', left: panel.left, top: 514, width: panel.width, height: 12, boxSizing: 'border-box', border: '1px solid #5f7f78', pointerEvents: 'none' }} />

      <div style={{ position: 'absolute', left: panel.left - 8, top: 528 }}>
        <ScatterChart width={panel.width + 16} height={12 + 13} margin={{ top: 0, right: 8, bottom: 0, left: 8 }}>
          <XAxis dataKey="x" type="number" domain={panel.stripDomain} ticks={strip1Ticks} interval={0} height={13} tick={tickStyle} tickSize={2} tickMargin={1} axisLine={false} stroke="#333" allowDataOverflow tickFormatter={(v: number) => (v === 0 ? '0' : minus(v.toFixed(1)))} />
          <YAxis dataKey="y" type="number" domain={[0, 1]} hide allowDataOverflow />
          <Scatter data={dots} isAnimationActive={false} shape={(p: any) => <circle cx={p.cx} cy={p.cy} r={1.4} fill={[TEAL, LAVENDER, TEAL, PINK, TEAL, GREEN][p.payload.i % 6]} opacity={0.9} />} />
          <ReferenceLine segment={[{ x: bMin, y: 0.5 }, { x: bMax, y: 0.5 }]} stroke="#222" strokeWidth={0.7} />
          <ReferenceArea x1={q1} x2={q3} y1={0.15} y2={0.85} fill="none" stroke="#222" strokeWidth={0.7} />
          <ReferenceLine x={med} stroke="#222" strokeWidth={0.8} />
          <ReferenceLine x={0} stroke={panel.zeroColor} strokeWidth={1} />
        </ScatterChart>
      </div>
      <div style={{ position: 'absolute', left: panel.left, top: 528, width: panel.width, height: 12, boxSizing: 'border-box', border: '1px solid #777', pointerEvents: 'none' }} />
      <Txt x={panel.left + 1.5} y={530.5} size={6.7}>Spearman correlation</Txt>

      <div style={{ position: 'absolute', left: panel.left - axisW, top: 555 }}>
        <ComposedChart width={panel.width + axisW} height={plotH + 13} data={rows} margin={{ top: 0, right: 0, bottom: 0, left: 0 }}>
          <XAxis dataKey="age" type="number" domain={panel.xDomain} ticks={ageTicks} height={13} tick={tickStyle} tickSize={2} tickMargin={2} axisLine={false} stroke="#333" allowDataOverflow />
          <YAxis type="number" domain={panel.yDomain} ticks={panel.yTicks} width={axisW} tick={tickStyle} tickSize={2} tickMargin={1} axisLine={false} stroke="#333" allowDataOverflow tickFormatter={minus} />
          <Area dataKey="outer" type="monotone" stroke={TEAL} strokeWidth={0.4} fill={TEAL} fillOpacity={0.95} isAnimationActive={false} dot={false} activeDot={false} />
          <Area dataKey="inner" type="monotone" stroke="none" fill="#b7b5d4" fillOpacity={0.9} isAnimationActive={false} dot={false} activeDot={false} />
          {panel.traces.map((_: number[], k: number) => (
            <Line key={k} dataKey={`t${k}`} type="monotone" stroke={traceColors[k]} strokeWidth={0.6} dot={false} activeDot={false} isAnimationActive={false} />
          ))}
          <ReferenceLine y={0} stroke="#666" strokeWidth={0.7} />
          <Line dataKey="mean" type="monotone" stroke="#000" strokeWidth={2.8} dot={false} activeDot={false} isAnimationActive={false} />
        </ComposedChart>
      </div>
      <div style={{ position: 'absolute', left: panel.left, top: 555, width: panel.width, height: plotH, boxSizing: 'border-box', borderStyle: 'solid', borderWidth: 1, borderColor: '#c8c8c8 #777 #444 #777', pointerEvents: 'none' }} />
      {panel.notes.map((note: string, i: number) => (
        <Txt key={note} x={panel.notesX} y={panel.notesY + i * 8} size={6.6} color="#d4222a">{note}</Txt>
      ))}
      <Txt x={panel.left} y={699} size={7.8} style={{ width: panel.width, textAlign: 'center' }}>Age (years)</Txt>
      <Txt x={panel.left - 41} y={614} size={7} style={{ width: 40, textAlign: 'center', transform: 'rotate(-90deg)' }}>z-score</Txt>
    </>
  );
}

export default function App() {
  return (
    <div style={{ position: 'absolute', left: 0, top: 0, width: 731, height: 712, background: '#fff', fontFamily: FONT, overflow: 'hidden' }}>
      <Txt x={46} y={4} size={9.5} bold>a</Txt>
      <Txt x={46} y={289} size={9.5} bold>b</Txt>
      <Txt x={46} y={497} size={9.5} bold>c</Txt>

      {a1Panels.map((panel) => <ScatterPanel key={panel.title} panel={panel} top={21.7} height={100.6} />)}
      {a2Panels.map((panel) => <ScatterPanel key={panel.title} panel={panel} top={152.3} height={101} />)}
      <Txt x={35} y={133} size={7} style={{ width: 40, textAlign: 'center', transform: 'rotate(-90deg)' }}>PC1</Txt>
      <Txt x={340} y={270} size={7.8} style={{ width: 80, textAlign: 'center' }}>Age (years)</Txt>

      <Dendrogram />
      <Heatmap />
      <ClassBars />
      <BoxPanel />
      {heatClusters.map((name, i) => (
        <Txt key={name} x={659} y={295.5 + i * 10.73} size={7.4}>{name}</Txt>
      ))}
      <Txt x={298} y={425.5} size={7.8} style={{ width: 80, textAlign: 'center' }}>Age (years)</Txt>
      <div style={{ position: 'absolute', left: 410, top: 428, width: 200, textAlign: 'right', fontSize: 8, lineHeight: 1, color: INK, transformOrigin: '100% 0', transform: 'rotate(-45deg)' }}>Molecular class</div>
      <div style={{ position: 'absolute', left: 440, top: 428, width: 200, textAlign: 'right', fontSize: 8, lineHeight: 1, color: INK, transformOrigin: '100% 0', transform: 'rotate(-45deg)' }}>Spearman correlation</div>
      <Txt x={642} y={421} size={7.4} style={{ width: 40, textAlign: 'center', transform: 'rotate(-90deg)' }}>Cluster</Txt>

      <Txt x={66.7} y={451} size={7.4}>z-score</Txt>
      <div style={{ position: 'absolute', left: 102, top: 452, width: 41, height: 8.5, background: `linear-gradient(to right, ${heatColor(-2.1)}, ${heatColor(-1)} 26%, ${heatColor(0)} 50%, ${heatColor(1)} 74%, ${heatColor(1.5)} 86%, ${heatColor(2)})` }} />
      {[-2, -1, 0, 1, 2].map((v, i) => (
        <Txt key={v} x={101 + i * 9.3} y={464} size={6.6} style={{ width: 8, textAlign: 'center' }}>{minus(v)}</Txt>
      ))}
      <Txt x={157.7} y={451} size={7.6}>Molecule class</Txt>
      {legendItems.map((item) => (
        <React.Fragment key={item.name}>
          <div style={{ position: 'absolute', left: item.x, top: 443.3 + item.row * 12.6, width: 7, height: 7, boxSizing: 'border-box', background: item.color, border: '0.7px solid #444' }} />
          <Txt x={item.x + 11.5} y={443.3 + item.row * 12.6} size={7.6}>{item.name}</Txt>
        </React.Fragment>
      ))}

      {cPanels.map((panel) => <TrajectoryPanel key={panel.title} panel={panel} />)}
    </div>
  );
}
